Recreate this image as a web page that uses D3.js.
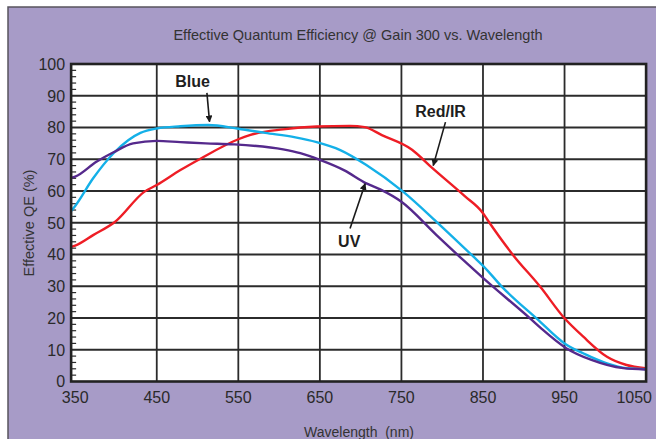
<!DOCTYPE html>
<html lang="en">
<head>
<meta charset="utf-8">
<script src="https://d3js.org/d3.v7.min.js"></script>
<style type="text/css">
body {
  margin: 0;
  background-color: #ffffff;
  font-family: "Liberation Sans", Arial, sans-serif;
}
</style>
</head>
<body>
<script type="text/javascript">

// values (wavelength nm, QE %)
var blueWl  = [345, 350, 372, 397, 415, 430, 450, 479, 513, 550, 583, 620, 646, 675, 707, 752, 793, 838, 851, 873, 916, 950, 975, 1002, 1026, 1049];
var blueQE  = [53.7, 55.3, 64.0, 71.9, 76.0, 78.3, 79.7, 80.4, 80.8, 79.6, 78.3, 76.9, 75.4, 72.9, 68.2, 59.8, 50.3, 39.4, 36.2, 29.9, 19.8, 12.0, 8.6, 5.7, 4.2, 3.9];

var uvWl    = [345, 350, 376, 397, 421, 450, 479, 510, 544, 605, 626, 650, 680, 707, 724, 750, 793, 826, 851, 908, 921, 952, 983, 1022, 1049];
var uvQE    = [64.1, 64.5, 69.2, 72.2, 75.0, 75.8, 75.4, 75.0, 74.7, 73.1, 71.9, 69.8, 66.5, 62.4, 60.5, 56.6, 46.1, 38.2, 32.4, 19.8, 16.8, 10.5, 6.8, 4.2, 3.8];

var redWl   = [345, 350, 372, 399, 435, 450, 479, 503, 550, 564, 605, 646, 687, 705, 726, 763, 788, 828, 850, 855, 887, 920, 950, 973, 1002, 1026, 1049];
var redQE   = [42.4, 42.8, 46.1, 50.3, 59.8, 61.9, 66.6, 70.1, 76.3, 77.6, 79.4, 80.3, 80.5, 80.1, 77.6, 73.0, 67.2, 58.3, 53.0, 51.1, 39.8, 29.9, 19.9, 14.1, 7.8, 5.2, 4.2];

var xTicks = [350, 450, 550, 650, 750, 850, 950, 1050];
var xGrid  = [450, 550, 650, 750, 850, 950];
var yTicks = [0, 10, 20, 30, 40, 50, 60, 70, 80, 90, 100];

var width = 656;
var height = 439;

var svg = d3.select("body")
  .append("svg")
  .attr("width", width)
  .attr("height", height);

// purple panel
svg.append("rect")
  .attr("x", 8).attr("y", 7)
  .attr("width", width).attr("height", height)
  .style("fill", "#a79bc7")
  .style("stroke", "#58545e")
  .style("stroke-width", 1.5);

var x = d3.scaleLinear().domain([350, 1050]).range([75.2, 646.1]);
var y = d3.scaleLinear().domain([0, 100]).range([381.5, 64]);

var x0 = x(345), x1 = x(1050);

// plot background
svg.append("rect")
  .attr("x", x0).attr("y", y(100))
  .attr("width", x1 - x0).attr("height", y(0) - y(100))
  .style("fill", "#ffffff");

// grid
svg.selectAll(".hgrid")
  .data(yTicks.slice(1, -1))
  .enter().append("line")
  .attr("x1", x0).attr("x2", x1)
  .attr("y1", function(d) { return y(d); })
  .attr("y2", function(d) { return y(d); })
  .style("stroke", "#2b2b2b")
  .style("stroke-width", 1.8);

svg.selectAll(".vgrid")
  .data(xGrid)
  .enter().append("line")
  .attr("x1", function(d) { return x(d); })
  .attr("x2", function(d) { return x(d); })
  .attr("y1", y(100)).attr("y2", y(0))
  .style("stroke", "#2b2b2b")
  .style("stroke-width", 1.8);

// minor ticks on the left edge, every 2 %
svg.selectAll(".minor")
  .data(d3.range(2, 100, 2).filter(function(d) { return d % 10 != 0; }))
  .enter().append("line")
  .attr("x1", x0).attr("x2", x0 + 5)
  .attr("y1", function(d) { return y(d); })
  .attr("y2", function(d) { return y(d); })
  .style("stroke", "#2b2b2b")
  .style("stroke-width", 1.2);

// curves
var line = d3.line()
  .x(function(d) { return x(d[0]); })
  .y(function(d) { return y(d[1]); })
  .curve(d3.curveMonotoneX);

var series = [
  { wl: redWl, qe: redQE, color: "#ee1d25" },
  { wl: blueWl, qe: blueQE, color: "#14b0e8" },
  { wl: uvWl, qe: uvQE, color: "#55298c" }
];

series.forEach(function(s) {
  svg.append("path")
    .datum(d3.zip(s.wl, s.qe))
    .attr("d", line)
    .style("fill", "none")
    .style("stroke", s.color)
    .style("stroke-width", 2.4);
});

// frame
svg.append("rect")
  .attr("x", x0).attr("y", y(100))
  .attr("width", x1 - x0).attr("height", y(0) - y(100))
  .style("fill", "none")
  .style("stroke", "#222")
  .style("stroke-width", 2.6);

// tick labels
svg.selectAll(".ylab")
  .data(yTicks)
  .enter().append("text")
  .attr("x", x0 - 6)
  .attr("y", function(d) { return y(d); })
  .attr("dy", "0.36em")
  .attr("text-anchor", "end")
  .style("font-size", "16px")
  .style("fill", "#2a2a2a")
  .text(function(d) { return d; });

svg.selectAll(".xlab")
  .data(xTicks)
  .enter().append("text")
  .attr("x", function(d, i) { return i == xTicks.length - 1 ? 652 : x(d); })
  .attr("y", 403)
  .attr("text-anchor", function(d, i) { return i == xTicks.length - 1 ? "end" : "middle"; })
  .style("font-size", "16px")
  .style("fill", "#2a2a2a")
  .text(function(d) { return d; });

// titles
svg.append("text")
  .attr("x", 358).attr("y", 40)
  .attr("text-anchor", "middle")
  .style("font-size", "14.5px")
  .style("fill", "#333")
  .text("Effective Quantum Efficiency @ Gain 300 vs. Wavelength");

svg.append("text")
  .attr("x", 359).attr("y", 437)
  .attr("text-anchor", "middle")
  .style("font-size", "14px")
  .style("fill", "#333")
  .style("white-space", "pre")
  .text("Wavelength  (nm)");

svg.append("text")
  .attr("transform", "translate(34,223) rotate(-90)")
  .attr("text-anchor", "middle")
  .style("font-size", "14.5px")
  .style("fill", "#333")
  .text("Effective QE (%)");

// labels with arrows
svg.append("defs").append("marker")
  .attr("id", "head")
  .attr("viewBox", "0 0 10 10")
  .attr("refX", 9).attr("refY", 5)
  .attr("markerWidth", 7).attr("markerHeight", 7)
  .attr("markerUnits", "userSpaceOnUse")
  .attr("orient", "auto")
  .append("path")
  .attr("d", "M0,0L10,5L0,10z")
  .style("fill", "#1a1a1a");

var notes = [
  { text: "Blue",   tx: 494, ty: 92.6, from: [511.5, 90.9], to: [514.7, 81.8] },
  { text: "Red/IR", tx: 798, ty: 83.2, from: [804, 81.7],   to: [789, 68.0] },
  { text: "UV",     tx: 686, ty: 42.3, from: [687, 48.2],   to: [705.5, 62.3] }
];

notes.forEach(function(n) {
  svg.append("text")
    .attr("x", x(n.tx)).attr("y", y(n.ty))
    .attr("text-anchor", "middle")
    .style("font-size", "16px")
    .style("font-weight", "bold")
    .style("fill", "#1e1e1e")
    .text(n.text);
  svg.append("line")
    .attr("x1", x(n.from[0])).attr("y1", y(n.from[1]))
    .attr("x2", x(n.to[0])).attr("y2", y(n.to[1]))
    .style("stroke", "#1a1a1a")
    .style("stroke-width", 1.6)
    .attr("marker-end", "url(#head)");
});

</script>
</body>
</html>
